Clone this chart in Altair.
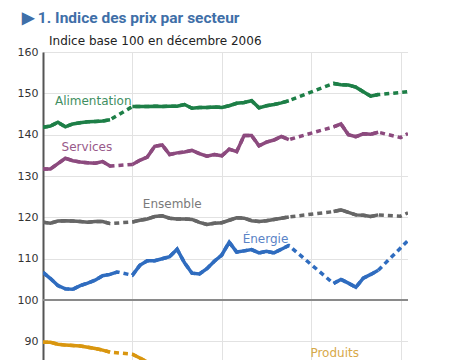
import altair as alt
import pandas as pd

N = None
# month index 0..49 ; None = month not plotted as observed
months = list(range(50))

alimentation = [141.8, 142.1, 143.0, 141.9, 142.6, 142.9, 143.1, 143.2, 143.3, 143.6,
                N, N,
                146.8, 146.8, 146.8, 146.9, 146.8, 146.9, 146.9, 147.3, 146.4, 146.6, 146.6,
                146.7, 146.6, 147.0, 147.6, 147.8, 148.2, 146.5, 147.0, 147.3, 147.7, 148.2,
                N, N, N, N, N,
                152.4, 152.1, 152.0, 151.5, 150.4, 149.3, 149.7,
                N, N, N, N]
services = [131.7, 131.7, 133.0, 134.3, 133.7, 133.4, 133.2, 133.1, 133.5, 132.4,
            N, N,
            132.8, 133.8, 134.6, 137.2, 137.5, 135.2, 135.6, 135.8, 136.2, 135.4, 134.8,
            135.2, 134.9, 136.5, 135.9, 139.8, 139.8, 137.3, 138.2, 138.7, 139.6, 138.8,
            N, N, N, N, N,
            141.9, 142.6, 140.0, 139.5, 140.2, 140.1, 140.6,
            N, N, N, N]
ensemble = [118.8, 118.6, 119.1, 119.2, 119.1, 119.0, 118.8, 119.0, 119.0, 118.5,
            N, N,
            118.9, 119.3, 119.6, 120.2, 120.4, 119.8, 119.6, 119.6, 119.5, 118.8, 118.3,
            118.6, 118.7, 119.3, 119.9, 119.8, 119.2, 119.0, 119.2, 119.5, 119.8, 120.1,
            N, N, N, N, N,
            121.4, 121.8, 121.2, 120.6, 120.5, 120.2, 120.6,
            N, N, N, N]
energie = [106.7, 105.2, 103.5, 102.7, 102.6, 103.5, 104.1, 104.8, 105.9, 106.2,
           106.8, N,
           106.0, 108.4, 109.5, 109.5, 110.0, 110.5, 112.3, 109.0, 106.5, 106.3, 107.6,
           109.4, 110.9, 114.0, 111.6, 111.9, 112.2, 111.4, 111.8, 111.4, 112.3, 113.2,
           N, N, N, N, N,
           104.0, 105.0, 104.1, 103.1, 105.3, 106.2, 107.2,
           N, N, N, N]
produits = [89.8, 89.8, 89.3, 89.1, 89.0, 88.9, 88.6, 88.3, 87.9, 87.4,
            N, N,
            86.9, 86.0, 85.0] + [N] * 35

# projected (dashed-only) points
proj_months = [48, 49]
alimentation_proj = [150.2, 150.4]
services_proj = [139.3, 140.3]
ensemble_proj = [120.3, 121.1]
energie_proj = [112.6, 114.4]
produits_proj = [N, N]

names = ["Alimentation", "Services", "Ensemble", "Énergie", "Produits"]
line_colors = ["#1d7f47", "#8c4a7e", "#666666", "#2f6cbf", "#d9960f"]
label_colors = ["#3f8f62", "#98598a", "#7a7a7a", "#5a83c6", "#d8a949"]

label_months = [1.6, 2.5, 13.4, 26.8, 35.9]
label_values = [147.2, 136.0, 122.3, 113.8, 86.3]

observed = dict(zip(names, [alimentation, services, ensemble, energie, produits]))
projected = dict(zip(names, [alimentation_proj, services_proj, ensemble_proj, energie_proj, produits_proj]))

solid_rows, dash_rows = [], []
for name in names:
    seg = 0
    prev = None
    for m, v in zip(months, observed[name]):
        if v is None:
            if prev is not None:
                seg += 1
            prev = None
            continue
        solid_rows.append({"serie": name, "m": m, "v": v, "seg": f"{name}-{seg}"})
        dash_rows.append({"serie": name, "m": m, "v": v})
        prev = v
    for m, v in zip(proj_months, projected[name]):
        if v is not None:
            dash_rows.append({"serie": name, "m": m, "v": v})

solid_df = pd.DataFrame(solid_rows)
dash_df = pd.DataFrame(dash_rows)
label_df = pd.DataFrame({"serie": names, "m": label_months, "v": label_values})

x_scale = alt.Scale(domain=[0, 49], nice=False, zero=False)
y_scale = alt.Scale(domain=[85.5, 160], nice=False, zero=False)
color_scale = alt.Scale(domain=names, range=line_colors)

x_enc = alt.X("m:Q", scale=x_scale,
              axis=alt.Axis(values=[12, 24, 36, 48], labels=False, ticks=False, domain=False,
                            grid=True, gridColor="#e2e2e2", title=None))
y_enc = alt.Y("v:Q", scale=y_scale,
              axis=alt.Axis(values=[90, 100, 110, 120, 130, 140, 150, 160], ticks=False,
                            domain=True, domainColor="#555555", domainWidth=2,
                            grid=True, gridColor="#e2e2e2", labelFont="DejaVu Sans",
                            labelFontSize=11, labelColor="#333333", labelPadding=5,
                            title=None))

dashed = alt.Chart(dash_df).mark_line(strokeWidth=3.5, strokeDash=[5, 4], clip=True).encode(
    x=x_enc, y=y_enc,
    color=alt.Color("serie:N", scale=color_scale, legend=None),
    detail="serie:N",
)
solid = alt.Chart(solid_df).mark_line(strokeWidth=3.5, clip=True).encode(
    x="m:Q", y="v:Q",
    color=alt.Color("serie:N", scale=color_scale, legend=None),
    detail="seg:N",
)
base_df = pd.DataFrame({"v": [100]})
base = alt.Chart(base_df).mark_rule(color="#8a8a8a", strokeWidth=2).encode(y="v:Q")

labels = alt.Chart(label_df).mark_text(align="left", baseline="alphabetic",
                                       font="DejaVu Sans", fontSize=12).encode(
    x="m:Q", y="v:Q", text="serie:N",
    color=alt.Color("serie:N", scale=alt.Scale(domain=names, range=label_colors), legend=None),
)

title_df = pd.DataFrame({"s": ["▶ 1. Indice des prix par secteur"]})
title = alt.Chart(title_df).mark_text(align="left", baseline="alphabetic", font="Roboto",
                                      fontWeight="bold", fontSize=15.5, color="#3f6fa8").encode(
    text="s:N", x=alt.value(-21), y=alt.value(-29))
sub_df = pd.DataFrame({"s": ["Indice base 100 en décembre 2006"]})
subtitle = alt.Chart(sub_df).mark_text(align="left", baseline="alphabetic", font="DejaVu Sans",
                                       fontSize=12, color="#222222").encode(
    text="s:N", x=alt.value(6), y=alt.value(-7))

chart = alt.layer(dashed, solid, base, labels, title, subtitle).resolve_scale(
    color="independent"
).properties(
    width=365, height=308,
    autosize=alt.AutoSizeParams(type="none"),
    padding={"left": 35, "top": 44, "right": 0, "bottom": 0},
).configure_view(stroke="#dcdcdc")

chart.save("out.html", embed_options={"renderer": "svg", "actions": False})
